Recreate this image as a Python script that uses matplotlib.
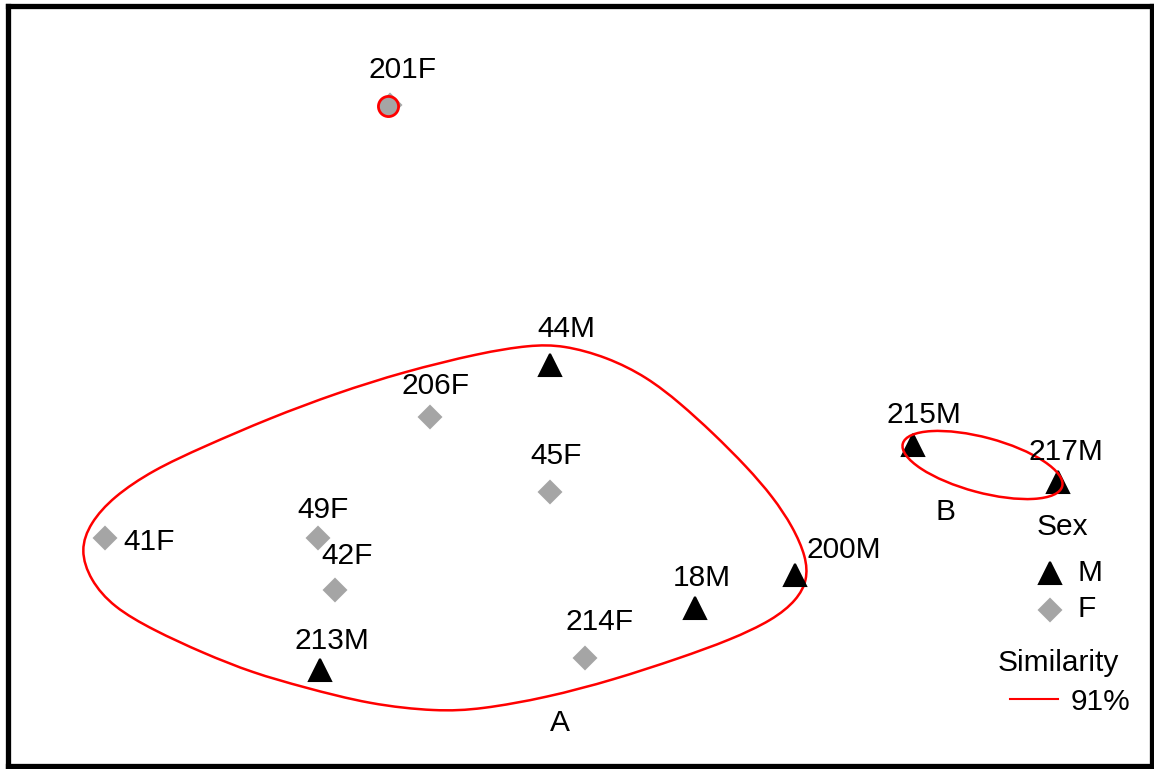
import numpy as np
import matplotlib
matplotlib.use("Agg")
import matplotlib.pyplot as plt
from matplotlib.path import Path
from matplotlib.patches import PathPatch, Ellipse

# nMDS ordination scores for each animal
samples = ["201F", "44M", "206F", "45F", "49F", "41F", "42F",
           "213M", "214F", "18M", "200M", "215M", "217M"]
sex = ["F", "M", "F", "F", "F", "F", "F", "M", "F", "M", "M", "M", "M"]
mds1 = [-0.76, -0.12, -0.60, -0.12, -1.05, -1.90, -0.98,
        -1.04, 0.02, 0.46, 0.86, 1.33, 1.91]
mds2 = [1.26, 0.22, 0.01, -0.29, -0.47, -0.47, -0.68,
        -1.00, -0.95, -0.75, -0.62, -0.10, -0.25]

# 91% similarity outline around group A
contour_a_x = [-2.000, -1.960, -1.868, -1.708, -1.508, -1.240, -0.972, -0.708,
               -0.400, -0.200, -0.068, 0.108, 0.268, 0.400, 0.532, 0.668,
               0.772, 0.852, 0.905, 0.910, 0.868, 0.772, 0.600, 0.400,
               0.132, -0.132, -0.400, -0.572, -0.840, -1.108, -1.308, -1.508,
               -1.708, -1.868, -1.960]
contour_a_y = [-0.520, -0.412, -0.308, -0.200, -0.108, 0.008, 0.108, 0.192,
               0.268, 0.300, 0.300, 0.252, 0.172, 0.068, -0.052, -0.188,
               -0.308, -0.428, -0.548, -0.640, -0.720, -0.800, -0.880, -0.952,
               -1.040, -1.110, -1.158, -1.166, -1.138, -1.068, -1.012, -0.932,
               -0.840, -0.748, -0.640]
# group B outline (ellipse: centre, width, height, angle)
contour_b = (1.61, -0.18, 0.66, 0.22, -15)
similarity = "91%"

grey = "#a5a5a5"
red = "#ff0000"
font = "Liberation Sans"
fs = 21.5

fig = plt.figure(figsize=(11.54, 7.69), dpi=100)
ax = fig.add_axes([7.5 / 1154, 3 / 769, 1144 / 1154, 759.5 / 769])
ax.set_xlim(-2.29, 2.286)
ax.set_ylim(-1.384, 1.654)
ax.set_xticks([])
ax.set_yticks([])
for s in ax.spines.values():
    s.set_linewidth(3.8)
    s.set_color("black")

# closed smooth outline: contour points as a periodic cubic B-spline, drawn as beziers
pts = np.column_stack([contour_a_x, contour_a_y])
n = len(pts)
verts, codes = [], []
for i in range(n):
    p0, p1, p2, p3 = pts[i - 1], pts[i], pts[(i + 1) % n], pts[(i + 2) % n]
    if i == 0:
        verts.append((p0 + 4 * p1 + p2) / 6)
        codes.append(Path.MOVETO)
    verts += [(2 * p1 + p2) / 3, (p1 + 2 * p2) / 3, (p1 + 4 * p2 + p3) / 6]
    codes += [Path.CURVE4] * 3
ax.add_patch(PathPatch(Path(verts, codes), fill=False, edgecolor=red, lw=1.8, zorder=2))

cx, cy, w, h, ang = contour_b
ax.add_patch(Ellipse((cx, cy), w, h, angle=ang, fill=False, edgecolor=red, lw=1.8, zorder=4))

# points
for name, g, x, y in zip(samples, sex, mds1, mds2):
    if g == "M":
        ax.plot(x, y, marker="^", ms=16, color="black", mec="black", mew=1.5,
                linestyle="none", zorder=3)
    else:
        ax.plot(x, y, marker="D", ms=11.5, color=grey, mec=grey, mew=1.5,
                linestyle="none", zorder=3)

# single-sample cluster drawn as a ring
ax.plot(mds1[0] - 0.008, mds2[0] - 0.006, marker="o", ms=14.5, color=grey, mec=red,
        mew=2, zorder=4)

# label offsets in pixels
offsets = {
    "201F": (13, 35), "44M": (16, 36), "206F": (6, 31), "45F": (6, 36),
    "49F": (6, 28), "42F": (12, 34), "213M": (12, 29), "214F": (15, 35),
    "18M": (7, 30), "200M": (49, 25), "215M": (11, 30), "217M": (8, 30),
}
for name, x, y in zip(samples, mds1, mds2):
    if name == "41F":
        ax.annotate(name, (x, y), xytext=(18, -4), textcoords="offset pixels",
                    ha="left", va="center", fontsize=fs, family=font, zorder=5)
    else:
        ax.annotate(name, (x, y), xytext=offsets[name], textcoords="offset pixels",
                    ha="center", va="center", fontsize=fs, family=font, zorder=5)

ax.text(-0.08, -1.212, "A", ha="center", va="center", fontsize=fs, family=font)
ax.text(1.46, -0.368, "B", ha="center", va="center", fontsize=fs, family=font)


# legend, placed in figure pixels
def fp(px, py):
    return px / 1154, (769 - py) / 769


tf = fig.transFigure
ax.text(*fp(1062, 527), "Sex", transform=tf, ha="center", va="center", fontsize=fs, family=font)
ax.plot(*fp(1050, 573), marker="^", ms=16, color="black", mew=1.5, transform=tf, clip_on=False)
ax.text(*fp(1077, 573), "M", transform=tf, ha="left", va="center", fontsize=fs, family=font)
ax.plot(*fp(1050, 610), marker="D", ms=11.5, color=grey, mec=grey, mew=1.5, transform=tf, clip_on=False)
ax.text(*fp(1077, 609), "F", transform=tf, ha="left", va="center", fontsize=fs, family=font)
ax.text(*fp(1058, 663), "Similarity", transform=tf, ha="center", va="center", fontsize=fs, family=font)
lx0, ly = fp(1010, 699)
lx1, _ = fp(1058, 699)
ax.plot([lx0, lx1], [ly, ly], color=red, lw=1.5, transform=tf, clip_on=False)
ax.text(*fp(1071, 702), similarity, transform=tf, ha="left", va="center", fontsize=fs, family=font)

fig.savefig("out.png", dpi=100)
